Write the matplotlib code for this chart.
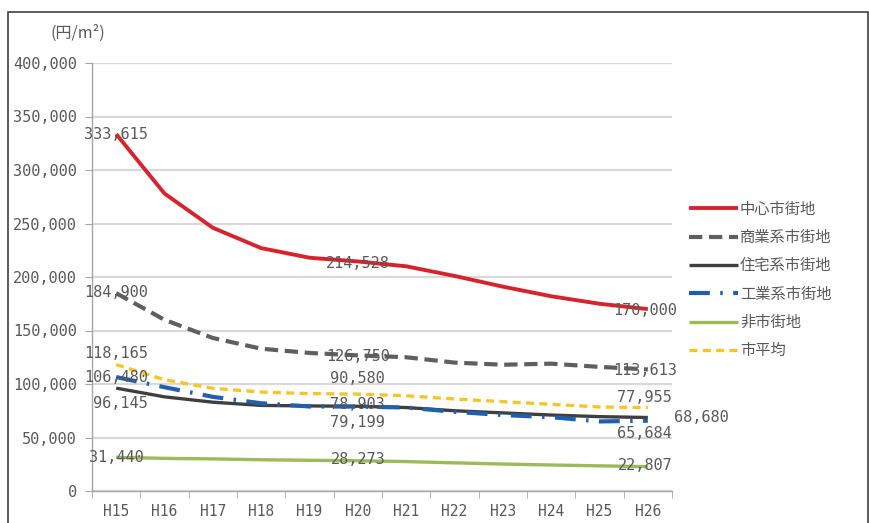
import matplotlib
matplotlib.use("Agg")
import matplotlib.pyplot as plt
from matplotlib.patches import Rectangle

# 地価の推移（円/㎡）
years = ["H15", "H16", "H17", "H18", "H19", "H20", "H21", "H22", "H23", "H24", "H25", "H26"]
chuushin = [333615, 278000, 246000, 227000, 218000, 214528, 210000, 201000, 191000, 182000, 175000, 170000]
shougyou = [184900, 160000, 143000, 133000, 129000, 126750, 125000, 120000, 118000, 119000, 116000, 113613]
juutaku = [96145, 88000, 83000, 80000, 79500, 79199, 78000, 75000, 73000, 71000, 69500, 68680]
kougyou = [106480, 97000, 88000, 82000, 79000, 78903, 78000, 74000, 71000, 69000, 65000, 65684]
hishigai = [31440, 30500, 30000, 29200, 28700, 28273, 27500, 26300, 25200, 24300, 23500, 22807]
heikin = [118165, 104000, 96000, 92500, 91000, 90580, 89000, 86000, 83500, 81000, 78500, 77955]

series_names = ["中心市街地", "商業系市街地", "住宅系市街地", "工業系市街地", "非市街地", "市平均"]
y_ticks = [0, 50000, 100000, 150000, 200000, 250000, 300000, 350000, 400000]

TEXT = "#595959"
MONO = ["DejaVu Sans Mono"]
JP = ["Noto Sans CJK JP", "DejaVu Sans"]

fig = plt.figure(figsize=(8.7, 5.23), dpi=100)
fig.patch.set_facecolor("white")
fig.patches.append(Rectangle((8 / 870, -0.01), 860 / 870, (523 - 12) / 523 + 0.01,
                             transform=fig.transFigure, fill=False,
                             edgecolor="#404040", linewidth=1.2))

ax = fig.add_axes([92 / 870, 32 / 523, 580 / 870, 428 / 523])
x = list(range(len(years)))

styles = [
    (chuushin, dict(color="#d6242e", lw=2.8, ls="-")),
    (shougyou, dict(color="#5f5f5f", lw=3.0, ls=(0, (3.2, 1.6)))),
    (juutaku, dict(color="#3f3f3f", lw=2.4, ls="-")),
    (kougyou, dict(color="#1f5fae", lw=3.0, ls=(0, (5, 2.5, 0.6, 2.5)))),
    (hishigai, dict(color="#9bbb59", lw=2.4, ls="-")),
    (heikin, dict(color="#f5c62a", lw=2.4, ls=(0, (2.4, 1.6)))),
]
for (vals, st), name in zip(styles, series_names):
    ax.plot(x, vals, label=name, solid_capstyle="butt", dash_capstyle="butt", **st)

ax.set_xlim(-0.5, len(years) - 0.5)
ax.set_ylim(0, 400000)
ax.set_yticks(y_ticks)
ax.set_yticklabels([f"{v:,}" for v in y_ticks], family=MONO, fontsize=11, color=TEXT)
ax.set_xticks(x)
ax.set_xticklabels(years, family=MONO, fontsize=10.5, color=TEXT)
ax.set_xticks([i - 0.5 for i in range(len(years) + 1)], minor=True)
ax.tick_params(axis="x", which="major", length=0, pad=9)
ax.tick_params(axis="x", which="minor", length=5, color="#a6a6a6", direction="out")
ax.tick_params(axis="y", length=5, color="#a6a6a6", pad=6)
ax.grid(axis="y", color="#d9d9d9", lw=1.6)
ax.set_axisbelow(True)
for side in ("top", "right"):
    ax.spines[side].set_visible(False)
for side in ("left", "bottom"):
    ax.spines[side].set_color("#a6a6a6")
    ax.spines[side].set_linewidth(1.0)

# data labels: (series, index, dx px, dy px)
labels = [
    (chuushin, 0, 0, 0), (chuushin, 5, 0, -2), (chuushin, 11, -3, -1),
    (shougyou, 0, 0, 1), (shougyou, 5, 0, -1), (shougyou, 11, -3, -1),
    (heikin, 0, 0, 11), (heikin, 5, 0, 16), (heikin, 11, -3, 10),
    (kougyou, 0, 0, 0), (kougyou, 5, 0, 2), (kougyou, 11, -3, -13),
    (juutaku, 0, 4, -15), (juutaku, 5, 0, -16),
    (hishigai, 0, 0, 0), (hishigai, 5, 0, 1), (hishigai, 11, -3, 1),
]
for vals, i, dx, dy in labels:
    ax.annotate(f"{vals[i]:,}", (x[i], vals[i]), xytext=(dx, dy), textcoords="offset pixels",
                ha="center", va="center", family=MONO, fontsize=11, color=TEXT,
                annotation_clip=False)
ax.annotate(f"{juutaku[11]:,}", (x[11], juutaku[11]), xytext=(54, 0), textcoords="offset pixels",
            ha="center", va="center", family=MONO, fontsize=11, color=TEXT, annotation_clip=False)

fig.text(78 / 870, 1 - 33 / 523, "(円/m²)", ha="center", va="center",
         family=JP, fontsize=11.5, color=TEXT)

leg = fig.legend(loc="upper left", bbox_to_anchor=(675 / 870, 1 - 187 / 523),
                 frameon=False, prop={"family": JP, "size": 11},
                 handlelength=3.25, handletextpad=0.1, labelspacing=0.74)
for t in leg.get_texts():
    t.set_color(TEXT)

fig.savefig("out.png", dpi=100, facecolor="white")
